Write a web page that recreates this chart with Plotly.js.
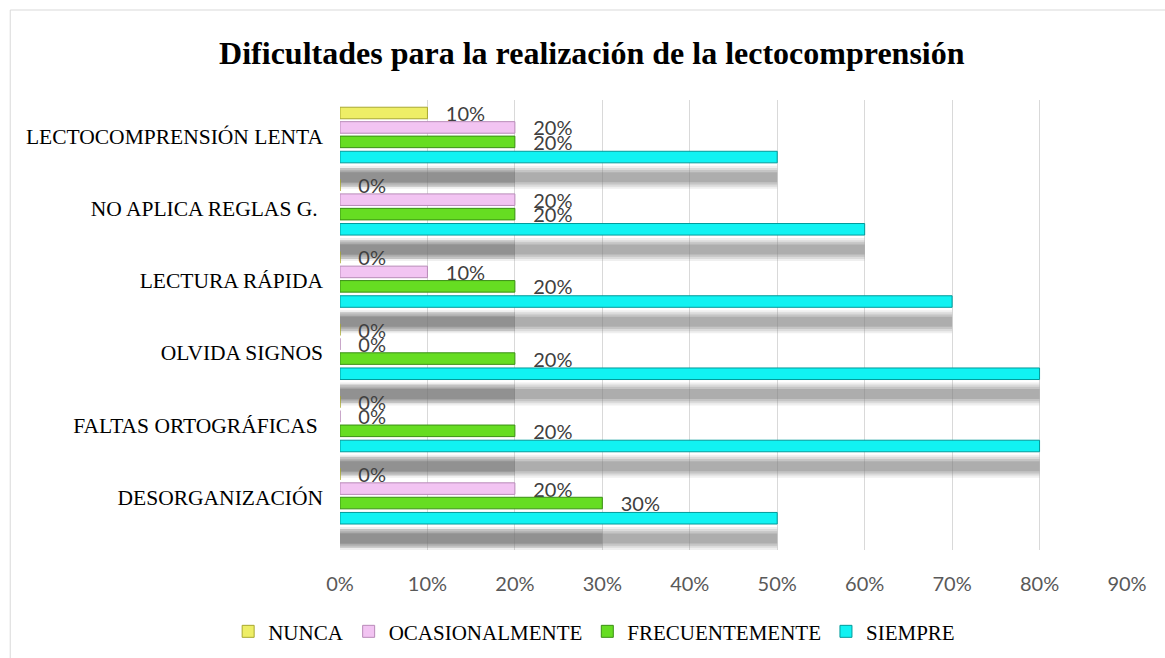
<!DOCTYPE html>
<html>
<head>
<meta charset="utf-8">
<script src="https://cdn.plot.ly/plotly-3.0.1.min.js"></script>
<style>html,body{margin:0;padding:0;background:#fff;}#chart{width:1165px;height:658px;}</style>
</head>
<body>
<div id="chart"></div>
<script>
const categories = ["LECTOCOMPRENSIÓN LENTA", "NO APLICA REGLAS G. ", "LECTURA RÁPIDA", "OLVIDA SIGNOS", "FALTAS ORTOGRÁFICAS ", "DESORGANIZACIÓN"];
const nunca = [10, 0, 0, 0, 0, 0];
const ocasionalmente = [20, 20, 10, 0, 0, 20];
const frecuentemente = [20, 20, 20, 20, 20, 30];
const siempre = [50, 60, 70, 80, 80, 50];
const xTicks = [0, 10, 20, 30, 40, 50, 60, 70, 80, 90];
const xTickText = xTicks.map(v => v + "%");

const labelFont = {family: "Lato, Open Sans, sans-serif", size: 20, color: "#404040"};
const serif = "Liberation Serif, Times New Roman, serif";

function shadow(vals, off, w, color) {
  return {type: "bar", orientation: "h", y: categories, x: vals, offset: off, width: w,
    marker: {color: color, line: {width: 0}}, showlegend: false, hoverinfo: "skip"};
}
function series(name, vals, fill, edge, off, showText) {
  return {type: "bar", orientation: "h", name: name, y: categories, x: vals, offset: off, width: 0.16,
    marker: {color: fill, line: {color: edge, width: 1}},
    text: showText ? vals.map(v => "\u00a0\u00a0\u00a0" + v + "%") : undefined,
    textposition: showText ? "outside" : "none", constraintext: "none",
    textfont: labelFont, cliponaxis: false};
}

const data = [
  shadow(siempre, 0.41, 0.32, "rgba(150,150,150,0.15)"),
  shadow(siempre, 0.44, 0.26, "rgba(140,140,140,0.2)"),
  shadow(siempre, 0.47, 0.20, "rgba(130,130,130,0.25)"),
  shadow(siempre, 0.50, 0.14, "rgba(120,120,120,0.3)"),
  shadow(frecuentemente, 0.44, 0.26, "rgba(100,100,100,0.2)"),
  shadow(frecuentemente, 0.49, 0.16, "rgba(100,100,100,0.22)"),
  series("NUNCA", nunca, "#eeee66", "#a8a830", -0.40, true),
  series("OCASIONALMENTE", ocasionalmente, "#f2c4f2", "#b88ab8", -0.20, true),
  series("FRECUENTEMENTE", frecuentemente, "#66dd22", "#3a8f14", 0.0, true),
  series("SIEMPRE", siempre, "#11f2f2", "#009a9a", 0.21, false)
];

const layout = {
  width: 1165, height: 658,
  margin: {l: 340, r: 38, t: 100, b: 108},
  paper_bgcolor: "#ffffff", plot_bgcolor: "#ffffff",
  title: {text: "<b>Dificultades para la realización de la lectocomprensión</b>",
    font: {family: serif, size: 32, color: "#000"},
    x: 0.508, xref: "container", xanchor: "center", y: 0.92, yref: "container", yanchor: "middle"},
  barmode: "overlay",
  xaxis: {range: [0, 90], tickvals: xTicks, ticktext: xTickText, showgrid: true, gridcolor: "#d9d9d9", gridwidth: 1,
    zeroline: false, showline: false, ticks: "", ticklabelstandoff: 20,
    tickfont: {family: "Lato, Open Sans, sans-serif", size: 20, color: "#595959"}, fixedrange: true},
  yaxis: {type: "category", autorange: "reversed", showgrid: false, zeroline: false, showline: false, ticks: "",
    ticklabelstandoff: 16, tickfont: {family: serif, size: 21.5, color: "#000"}},
  legend: {orientation: "h", x: 0.51, xref: "container", xanchor: "center", y: 0.04, yref: "container", yanchor: "middle",
    font: {family: serif, size: 21, color: "#000"}, itemwidth: 30, tracegroupgap: 0},
  shapes: [{type: "rect", xref: "paper", yref: "paper", x0: -0.419, x1: 1.1, y0: -0.3, y1: 1.2,
    line: {color: "#d9d9d9", width: 1}, fillcolor: "rgba(0,0,0,0)", layer: "below"}],
  showlegend: true
};

Plotly.newPlot("chart", data, layout, {displayModeBar: false, staticPlot: true});
</script>
</body>
</html>
